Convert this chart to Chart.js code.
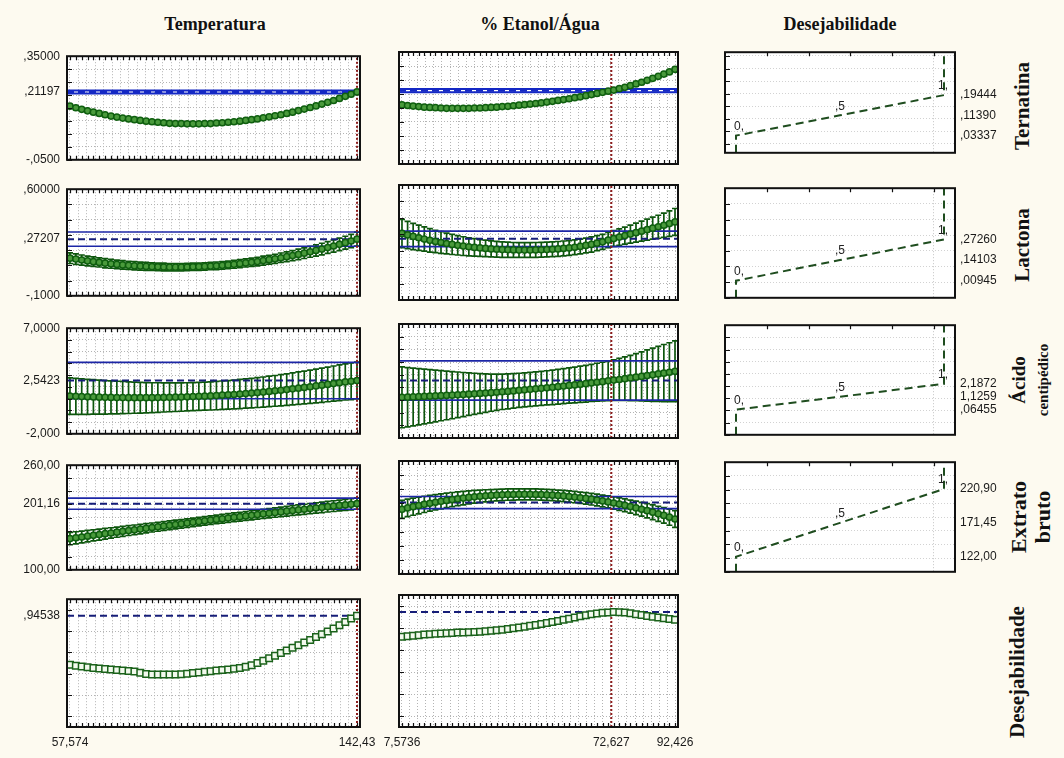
<!DOCTYPE html>
<html lang="pt">
<head>
<meta charset="utf-8">
<title>Perfis de desejabilidade</title>
<script src="https://cdn.jsdelivr.net/npm/chart.js@4.4.0/dist/chart.umd.min.js"></script>
<style>
  body { margin: 0; background: #fdfaf0; width: 1064px; height: 758px; position: relative; overflow: hidden;
         font-family: 'Liberation Serif', 'Times New Roman', serif; }
  canvas { position: absolute; }
  .titulo { position: absolute; top: 14px; width: 300px; text-align: center; font-weight: bold; font-size: 18px; color: #111; }
  .lado { position: absolute; transform: translate(-50%, -50%) rotate(-90deg); white-space: nowrap; font-weight: bold; color: #111; }
</style>
</head>
<body>
<div class="titulo" style="left:65px">Temperatura</div>
<div class="titulo" style="left:390px">% Etanol/Água</div>
<div class="titulo" style="left:690px">Desejabilidade</div>
<div class="lado" style="left:1022px;top:106px;font-size:21px">Ternatina</div>
<div class="lado" style="left:1022px;top:245px;font-size:21px">Lactona</div>
<div class="lado" style="left:1019px;top:380px;font-size:19px">Ácido</div>
<div class="lado" style="left:1043px;top:380px;font-size:15px">centipédico</div>
<div class="lado" style="left:1019px;top:517px;font-size:22px">Extrato</div>
<div class="lado" style="left:1043px;top:517px;font-size:22px">bruto</div>
<div class="lado" style="left:1017px;top:672px;font-size:21px">Desejabilidade</div>
<script>
// grade de pontos dos fatores
const tempX = [57.57, 59.31, 61.04, 62.77, 64.50, 66.23, 67.96, 69.70, 71.43, 73.16,
  74.89, 76.62, 78.36, 80.09, 81.82, 83.55, 85.28, 87.01, 88.75, 90.48,
  92.21, 93.94, 95.67, 97.41, 99.14, 100.87, 102.60, 104.33, 106.06, 107.80,
  109.53, 111.26, 112.99, 114.72, 116.45, 118.19, 119.92, 121.65, 123.38, 125.11,
  126.84, 128.58, 130.31, 132.04, 133.77, 135.50, 137.24, 138.97, 140.70, 142.43];
const etanolX = [7.57, 9.31, 11.04, 12.77, 14.50, 16.23, 17.96, 19.69, 21.43, 23.16,
  24.89, 26.62, 28.35, 30.09, 31.82, 33.55, 35.28, 37.01, 38.74, 40.48,
  42.21, 43.94, 45.67, 47.40, 49.13, 50.87, 52.60, 54.33, 56.06, 57.79,
  59.52, 61.26, 62.99, 64.72, 66.45, 68.18, 69.91, 71.65, 73.38, 75.11,
  76.84, 78.57, 80.30, 82.04, 83.77, 85.50, 87.23, 88.96, 90.69, 92.43];
const tempAtual = 142.43;
const etanolAtual = 72.627;
const tempXRotVals = [57.574, 142.43];
const tempXRotText = ['57,574', '142,43'];
const etanolXRotVals = [7.5736, 72.627, 92.426];
const etanolXRotText = ['7,5736', '72,627', '92,426'];

// respostas previstas ao longo de cada fator
const ternTemp = [0.157, 0.151, 0.145, 0.139, 0.134, 0.129, 0.124, 0.119, 0.115, 0.111,
  0.108, 0.105, 0.102, 0.099, 0.097, 0.095, 0.093, 0.091, 0.090, 0.090,
  0.089, 0.089, 0.089, 0.090, 0.090, 0.092, 0.093, 0.095, 0.097, 0.099,
  0.102, 0.105, 0.108, 0.112, 0.116, 0.120, 0.124, 0.129, 0.134, 0.140,
  0.146, 0.152, 0.158, 0.165, 0.172, 0.179, 0.187, 0.195, 0.203, 0.212];
const ternEtanol = [0.161, 0.159, 0.157, 0.155, 0.153, 0.152, 0.151, 0.150, 0.149, 0.149,
  0.149, 0.149, 0.149, 0.150, 0.150, 0.151, 0.152, 0.153, 0.155, 0.156,
  0.158, 0.160, 0.162, 0.164, 0.166, 0.168, 0.171, 0.174, 0.177, 0.180,
  0.183, 0.187, 0.190, 0.194, 0.198, 0.202, 0.206, 0.210, 0.214, 0.219,
  0.224, 0.230, 0.236, 0.242, 0.249, 0.256, 0.263, 0.271, 0.279, 0.288];
const lactTemp = [0.147, 0.141, 0.135, 0.129, 0.124, 0.119, 0.114, 0.110, 0.106, 0.103,
  0.100, 0.097, 0.095, 0.093, 0.091, 0.090, 0.089, 0.088, 0.088, 0.088,
  0.089, 0.090, 0.091, 0.093, 0.095, 0.097, 0.100, 0.103, 0.107, 0.111,
  0.116, 0.120, 0.125, 0.131, 0.137, 0.143, 0.150, 0.157, 0.164, 0.172,
  0.180, 0.189, 0.198, 0.207, 0.217, 0.227, 0.238, 0.249, 0.260, 0.272];
const lactTempErr = [0.035, 0.034, 0.033, 0.032, 0.031, 0.030, 0.030, 0.029, 0.028, 0.028,
  0.027, 0.027, 0.026, 0.026, 0.025, 0.025, 0.025, 0.024, 0.024, 0.024,
  0.024, 0.024, 0.024, 0.024, 0.024, 0.025, 0.025, 0.025, 0.026, 0.026,
  0.027, 0.027, 0.028, 0.029, 0.029, 0.030, 0.031, 0.032, 0.033, 0.034,
  0.035, 0.036, 0.037, 0.038, 0.039, 0.040, 0.041, 0.042, 0.044, 0.046];
const lactEtanol = [0.305, 0.296, 0.287, 0.279, 0.271, 0.263, 0.256, 0.250, 0.244, 0.238,
  0.233, 0.228, 0.224, 0.220, 0.217, 0.214, 0.211, 0.209, 0.207, 0.206,
  0.205, 0.204, 0.204, 0.204, 0.205, 0.206, 0.207, 0.209, 0.211, 0.214,
  0.217, 0.221, 0.226, 0.232, 0.238, 0.246, 0.254, 0.265, 0.274, 0.283,
  0.292, 0.301, 0.310, 0.319, 0.328, 0.337, 0.346, 0.355, 0.365, 0.375];
const lactEtanolErr = [0.086, 0.083, 0.080, 0.077, 0.074, 0.071, 0.068, 0.066, 0.063, 0.061,
  0.059, 0.057, 0.055, 0.053, 0.051, 0.050, 0.049, 0.048, 0.047, 0.046,
  0.045, 0.045, 0.045, 0.045, 0.045, 0.045, 0.045, 0.045, 0.045, 0.045,
  0.045, 0.045, 0.045, 0.045, 0.046, 0.046, 0.046, 0.047, 0.048, 0.050,
  0.052, 0.055, 0.058, 0.061, 0.064, 0.067, 0.070, 0.074, 0.078, 0.082];
const acidTemp = [1.21, 1.19, 1.17, 1.15, 1.14, 1.12, 1.11, 1.10, 1.09, 1.09,
  1.08, 1.08, 1.08, 1.08, 1.08, 1.09, 1.10, 1.11, 1.12, 1.13,
  1.15, 1.17, 1.19, 1.21, 1.23, 1.26, 1.29, 1.32, 1.35, 1.39,
  1.43, 1.47, 1.51, 1.56, 1.61, 1.66, 1.71, 1.77, 1.83, 1.89,
  1.95, 2.01, 2.08, 2.14, 2.21, 2.28, 2.35, 2.42, 2.48, 2.54];
const acidTempErr = [1.55, 1.53, 1.51, 1.49, 1.47, 1.45, 1.43, 1.41, 1.39, 1.37,
  1.35, 1.33, 1.31, 1.29, 1.27, 1.26, 1.24, 1.23, 1.22, 1.21,
  1.20, 1.20, 1.20, 1.20, 1.20, 1.21, 1.21, 1.22, 1.23, 1.24,
  1.25, 1.26, 1.27, 1.28, 1.30, 1.31, 1.33, 1.34, 1.36, 1.38,
  1.40, 1.42, 1.44, 1.46, 1.48, 1.50, 1.52, 1.54, 1.56, 1.57];
const acidEtanol = [1.21, 1.22, 1.24, 1.26, 1.28, 1.30, 1.32, 1.34, 1.36, 1.38,
  1.41, 1.43, 1.46, 1.49, 1.52, 1.55, 1.58, 1.61, 1.65, 1.68,
  1.72, 1.76, 1.80, 1.84, 1.88, 1.92, 1.96, 2.00, 2.05, 2.10,
  2.15, 2.19, 2.24, 2.29, 2.35, 2.40, 2.45, 2.51, 2.57, 2.62,
  2.68, 2.74, 2.80, 2.86, 2.93, 2.99, 3.06, 3.12, 3.19, 3.26];
const acidEtanolErr = [2.40, 2.34, 2.28, 2.22, 2.16, 2.10, 2.04, 1.98, 1.92, 1.86,
  1.80, 1.74, 1.68, 1.62, 1.57, 1.52, 1.47, 1.43, 1.40, 1.38,
  1.36, 1.35, 1.34, 1.34, 1.34, 1.34, 1.35, 1.36, 1.37, 1.38,
  1.39, 1.41, 1.43, 1.45, 1.47, 1.50, 1.53, 1.56, 1.60, 1.66,
  1.72, 1.79, 1.86, 1.94, 2.02, 2.10, 2.18, 2.26, 2.33, 2.40];
const extrTemp = [147.7, 149.0, 150.2, 151.4, 152.7, 153.9, 155.2, 156.3, 157.6, 158.8,
  160.0, 161.2, 162.3, 163.5, 164.7, 165.8, 167.0, 168.1, 169.3, 170.4,
  171.5, 172.6, 173.7, 174.9, 176.0, 177.0, 178.1, 179.2, 180.3, 181.3,
  182.4, 183.4, 184.5, 185.5, 186.5, 187.6, 188.6, 189.6, 190.6, 191.6,
  192.6, 193.6, 194.5, 195.5, 196.5, 197.4, 198.4, 199.3, 200.2, 201.2];
const extrTempErr = [9.4, 9.2, 9.0, 8.8, 8.6, 8.4, 8.2, 8.0, 7.8, 7.6,
  7.5, 7.3, 7.2, 7.0, 6.9, 6.8, 6.7, 6.6, 6.6, 6.5,
  6.5, 6.5, 6.5, 6.5, 6.5, 6.5, 6.6, 6.6, 6.7, 6.7,
  6.8, 6.9, 6.9, 7.0, 7.1, 7.2, 7.3, 7.4, 7.5, 7.6,
  7.7, 7.8, 7.9, 8.0, 8.1, 8.2, 8.3, 8.4, 8.5, 8.6];
const extrEtanol = [191.6, 193.5, 195.3, 197.0, 198.6, 200.1, 201.6, 202.9, 204.2, 205.4,
  206.5, 207.5, 208.4, 209.3, 210.0, 210.7, 211.2, 211.7, 212.1, 212.4,
  212.6, 212.8, 212.8, 212.8, 212.6, 212.4, 212.0, 211.6, 211.1, 210.5,
  209.7, 208.9, 208.0, 207.0, 205.9, 204.7, 203.4, 202.0, 200.5, 199.0,
  197.3, 195.5, 193.6, 191.7, 189.6, 187.5, 185.2, 182.9, 180.4, 177.9];
const extrEtanolErr = [12.7, 12.4, 12.1, 11.8, 11.5, 11.2, 10.9, 10.6, 10.3, 10.0,
  9.7, 9.5, 9.2, 9.0, 8.8, 8.6, 8.4, 8.2, 8.1, 8.0,
  7.9, 7.8, 7.8, 7.8, 7.8, 7.8, 7.8, 7.8, 7.8, 7.9,
  7.9, 8.0, 8.0, 8.1, 8.2, 8.3, 8.4, 8.5, 8.6, 8.8,
  9.0, 9.2, 9.5, 9.8, 10.1, 10.4, 10.7, 11.0, 11.4, 11.8];
const desTemp = [0.485, 0.475, 0.467, 0.460, 0.454, 0.449, 0.444, 0.440, 0.435, 0.430,
  0.426, 0.422, 0.410, 0.398, 0.394, 0.394, 0.394, 0.394, 0.394, 0.396,
  0.400, 0.406, 0.412, 0.418, 0.424, 0.430, 0.435, 0.440, 0.446, 0.455,
  0.466, 0.480, 0.500, 0.522, 0.546, 0.570, 0.594, 0.618, 0.643, 0.668,
  0.693, 0.718, 0.744, 0.770, 0.796, 0.826, 0.855, 0.885, 0.918, 0.945];
const desEtanol = [0.720, 0.725, 0.730, 0.735, 0.740, 0.744, 0.747, 0.750, 0.752, 0.755,
  0.758, 0.760, 0.762, 0.764, 0.767, 0.771, 0.775, 0.780, 0.785, 0.790,
  0.797, 0.804, 0.812, 0.820, 0.828, 0.836, 0.845, 0.854, 0.864, 0.874,
  0.884, 0.895, 0.906, 0.915, 0.924, 0.932, 0.938, 0.942, 0.945, 0.944,
  0.940, 0.934, 0.926, 0.918, 0.910, 0.902, 0.895, 0.888, 0.881, 0.875];

// valores no ponto atual
const previsto = [0.21197, 0.27207, 2.5423, 201.16, 0.94538];
const icInf = [0.2060, 0.225, 0.99, 192.6, null];
const icSup = [0.2180, 0.319, 4.09, 209.7, null];

// eixos verticais
const yMin = [-0.05, -0.1, -2, 100, -0.1];
const yMax = [0.35, 0.6, 7, 260, 1.1];
const yPasso = [0.05, 0.1, 1, 20, 0.2];
const yRotVals = [[0.35, 0.21197, -0.05], [0.6, 0.27207, -0.1], [7, 2.5423, -2], [260, 201.16, 100], [0.94538]];
const yRotText = [[',35000', ',21197', '-,0500'], [',60000', ',27207', '-,1000'], ['7,0000', '2,5423', '-2,000'], ['260,00', '201,16', '100,00'], [',94538']];

// funções de desejabilidade
const desejX = [0, 0.5, 1];
const desejXText = ['0,', ',5', '1,'];
const desejY = [[0.03337, 0.11390, 0.19444], [0.00945, 0.14103, 0.27260], [0.06455, 1.1259, 2.1872], [122.00, 171.45, 220.90]];
const desejYText = [[',03337', ',11390', ',19444'], [',00945', ',14103', ',27260'], [',06455', '1,1259', '2,1872'], ['122,00', '171,45', '220,90']];
const desejYMin = [-0.035, -0.1, -2, 100];
const desejYMax = [0.365, 0.6, 7, 260];
const desejMarcas = [0.15, 0.35, 0.55, 0.75, 0.95];

const seriesTemp = [ternTemp, lactTemp, acidTemp, extrTemp, desTemp];
const seriesEtanol = [ternEtanol, lactEtanol, acidEtanol, extrEtanol, desEtanol];
const errosTemp = [null, lactTempErr, acidTempErr, extrTempErr, null];
const errosEtanol = [null, lactEtanolErr, acidEtanolErr, extrEtanolErr, null];

// layout
const topoLinha = [52, 185, 324, 461, 595];
const baseLinha = [164, 300, 438, 574, 727];
const topoDes = [50, 186, 323, 460];
const baseDes = [155, 300, 437, 574];

Chart.defaults.font.family = "'Liberation Sans', Arial, sans-serif";
Chart.defaults.font.size = 12;
Chart.defaults.color = '#1a1a1a';
Chart.defaults.animation = false;

const semCor = 'rgba(0,0,0,0)';
const corGrade = '#b4b4b4';

function passos(min, max, p) {
  const out = [];
  for (let k = Math.ceil(min / p - 1e-9); k <= Math.floor(max / p + 1e-9); k++) out.push(+(k * p).toFixed(6));
  return out;
}
function igual(a, b) { return Math.abs(a - b) < 1e-6 * (Math.abs(a) + 1); }

function fazCanvas(left, top, w, h) {
  const c = document.createElement('canvas');
  c.width = w; c.height = h;
  c.style.left = left + 'px'; c.style.top = top + 'px';
  c.style.width = w + 'px'; c.style.height = h + 'px';
  document.body.appendChild(c);
  return c;
}

// fundo branco, moldura e marcas internas
const moldura = {
  id: 'moldura',
  beforeDraw(chart) {
    const a = chart.chartArea, ctx = chart.ctx;
    ctx.save(); ctx.fillStyle = '#ffffff';
    ctx.fillRect(a.left, a.top, a.right - a.left, a.bottom - a.top);
    ctx.restore();
  },
  afterDraw(chart, args, o) {
    const a = chart.chartArea, ctx = chart.ctx;
    const xs = chart.scales.x, ys = chart.scales.y;
    ctx.save();
    ctx.strokeStyle = '#111'; ctx.lineWidth = 1.2;
    ctx.beginPath();
    (o.hatch || []).forEach(v => {
      const px = Math.round(xs.getPixelForValue(v)) + 0.5;
      ctx.moveTo(px, a.top); ctx.lineTo(px, a.top + 4);
      if (!o.soTopo) { ctx.moveTo(px, a.bottom); ctx.lineTo(px, a.bottom - 4); }
    });
    (o.yMarcas || []).forEach(v => {
      const py = Math.round(ys.getPixelForValue(v)) + 0.5;
      ctx.moveTo(a.left, py); ctx.lineTo(a.left + 5, py);
    });
    ctx.stroke();
    ctx.lineWidth = 2;
    ctx.strokeRect(a.left, a.top, a.right - a.left, a.bottom - a.top);
    ctx.restore();
  }
};

// barras de erro verticais
const barrasErro = {
  id: 'barrasErro',
  beforeDatasetsDraw(chart) {
    const ctx = chart.ctx, a = chart.chartArea, ys = chart.scales.y;
    chart.data.datasets.forEach((ds, i) => {
      if (!ds.erros) return;
      const meta = chart.getDatasetMeta(i);
      ctx.save();
      ctx.beginPath(); ctx.rect(a.left, a.top, a.right - a.left, a.bottom - a.top); ctx.clip();
      ctx.strokeStyle = '#0d560d'; ctx.lineWidth = 1.7;
      ctx.beginPath();
      meta.data.forEach((pt, j) => {
        const v = ds.data[j].y, e = ds.erros[j];
        const y1 = ys.getPixelForValue(v + e), y2 = ys.getPixelForValue(v - e);
        ctx.moveTo(pt.x, y1); ctx.lineTo(pt.x, y2);
        ctx.moveTo(pt.x - 3, y1); ctx.lineTo(pt.x + 3, y1);
        ctx.moveTo(pt.x - 3, y2); ctx.lineTo(pt.x + 3, y2);
      });
      ctx.stroke();
      ctx.restore();
    });
  }
};

// rótulos 0, ,5 1, na função de desejabilidade
const rotulos = {
  id: 'rotulos',
  afterDatasetsDraw(chart) {
    const ctx = chart.ctx;
    chart.data.datasets.forEach((ds, i) => {
      if (!ds.rotulos) return;
      const meta = chart.getDatasetMeta(i);
      ctx.save();
      ctx.font = "12px 'Liberation Sans', Arial, sans-serif";
      ctx.fillStyle = '#222'; ctx.textAlign = 'center'; ctx.textBaseline = 'bottom';
      ds.rotulos.forEach((t, k) => {
        const pt = meta.data[k + 1];
        const dx = k === 0 ? 3 : (k === 2 ? -1 : 0);
        ctx.fillText(t, pt.x + dx, pt.y - 3);
      });
      ctx.restore();
    });
  }
};

function eixoY(min, max, passo, rotVals, rotTxt, pos, largura, pad, corLinha) {
  const steps = passos(min, max, passo);
  return {
    type: 'linear', position: pos, min: min, max: max,
    afterBuildTicks: s => {
      const v = steps.slice();
      rotVals.forEach(x => { if (!v.some(t => igual(t, x))) v.push(x); });
      v.sort((p, q) => p - q);
      s.ticks = v.map(value => ({ value }));
    },
    afterFit: s => { s.width = largura; },
    grid: { drawTicks: false, lineWidth: 1, color: c => (c.tick && steps.some(t => igual(t, c.tick.value))) ? corLinha : semCor },
    border: { display: false, dash: [1, 2] },
    ticks: {
      display: rotVals.length > 0, autoSkip: false, padding: pad, maxRotation: 0,
      callback: v => { const k = rotVals.findIndex(x => igual(x, v)); return k >= 0 ? rotTxt[k] : ''; }
    }
  };
}

function perfil(col, r) {
  const ehTemp = col === 0;
  const xs = ehTemp ? tempX : etanolX;
  const serie = (ehTemp ? seriesTemp : seriesEtanol)[r];
  const erros = (ehTemp ? errosTemp : errosEtanol)[r];
  const atual = ehTemp ? tempAtual : etanolAtual;
  const xMin = ehTemp ? 56.69 : 6.64;
  const xMax = ehTemp ? 143.32 : 93.36;
  const ultima = r === 4;
  const left = ehTemp ? 0 : 380, w = ehTemp ? 385 : 320;
  const eixoW = ehTemp ? 67 : 19, padR = ehTemp ? 25 : 22;
  const hArea = baseLinha[r] - topoLinha[r];
  const h = hArea + 10 + (ultima ? 24 : 10);
  const cv = fazCanvas(left, topoLinha[r] - 10, w, h);

  const xSteps = passos(xMin, xMax, 2.5);
  const xRot = ultima ? (ehTemp ? tempXRotVals : etanolXRotVals) : [];
  const xTxt = ehTemp ? tempXRotText : etanolXRotText;
  const corIC = r === 0 ? '#1428c4' : '#1c26a6';

  const datasets = [{
    data: xs.map((x, i) => ({ x, y: serie[i] })),
    erros: erros,
    showLine: false,
    pointStyle: ultima ? 'rect' : 'circle',
    pointRadius: ultima ? 4.6 : 3.1,
    pointBorderWidth: 1.5,
    pointBorderColor: ultima ? '#1a621a' : '#0f5f0f',
    pointBackgroundColor: ultima ? '#f3faee' : '#4a9a3c'
  }, {
    data: [{ x: atual, y: yMin[r] }, { x: atual, y: yMax[r] }],
    showLine: true, pointRadius: 0, borderColor: '#8c1c1c', borderWidth: 2, borderDash: [2, 2]
  }, {
    data: [{ x: xMin, y: previsto[r] }, { x: xMax, y: previsto[r] }],
    showLine: true, pointRadius: 0, borderColor: r === 0 ? corIC : '#161d78', borderWidth: 2, borderDash: [7, 4]
  }];
  if (icInf[r] !== null) {
    [icInf[r], icSup[r]].forEach(v => datasets.push({
      data: [{ x: xMin, y: v }, { x: xMax, y: v }],
      showLine: true, pointRadius: 0, borderColor: corIC, borderWidth: r === 0 ? 2 : 1.6
    }));
  }

  new Chart(cv, {
    type: 'scatter',
    data: { datasets },
    options: {
      responsive: false, animation: false,
      layout: { padding: { left: 0, right: padR, top: 10, bottom: ultima ? 0 : 10 } },
      plugins: {
        legend: { display: false }, tooltip: { enabled: false },
        moldura: { hatch: xs, yMarcas: passos(yMin[r], yMax[r], yPasso[r]) }
      },
      scales: {
        x: {
          type: 'linear', min: xMin, max: xMax,
          afterBuildTicks: s => {
            const v = xSteps.slice();
            xRot.forEach(x => v.push(x));
            v.sort((p, q) => p - q);
            s.ticks = v.map(value => ({ value }));
          },
          afterFit: s => { s.height = ultima ? 24 : 0; },
          grid: { drawTicks: false, lineWidth: 1, color: c => (c.tick && xSteps.some(t => igual(t, c.tick.value))) ? corGrade : semCor },
          border: { display: false, dash: [1, 2] },
          ticks: {
            display: ultima, autoSkip: false, maxRotation: 0, padding: 8,
            callback: v => { const k = xRot.findIndex(x => igual(x, v)); return k >= 0 ? xTxt[k] : ''; }
          }
        },
        y: eixoY(yMin[r], yMax[r], yPasso[r], ehTemp ? yRotVals[r] : [], ehTemp ? yRotText[r] : [], 'left', eixoW, 7, corGrade)
      }
    },
    plugins: [moldura, barrasErro]
  });
}

function desejPainel(r) {
  const hArea = baseDes[r] - topoDes[r];
  const cv = fazCanvas(720, topoDes[r] - 10, 300, hArea + 20);
  const pts = [{ x: desejX[0], y: desejYMin[r] }];
  desejX.forEach((x, k) => pts.push({ x, y: desejY[r][k] }));
  pts.push({ x: desejX[2], y: desejYMax[r] });

  new Chart(cv, {
    type: 'scatter',
    data: {
      datasets: [{
        data: pts, rotulos: desejXText,
        showLine: true, pointRadius: 0, borderColor: '#1f4d1f', borderWidth: 2, borderDash: [8, 5]
      }]
    },
    options: {
      responsive: false, animation: false,
      layout: { padding: { left: 5, right: 20, top: 10, bottom: 10 } },
      plugins: {
        legend: { display: false }, tooltip: { enabled: false },
        moldura: { hatch: desejMarcas, soTopo: true, yMarcas: passos(desejYMin[r], desejYMax[r], yPasso[r]) }
      },
      scales: {
        x: {
          type: 'linear', min: -0.053, max: 1.053,
          afterBuildTicks: s => { s.ticks = desejMarcas.map(value => ({ value })); },
          afterFit: s => { s.height = 0; },
          grid: { drawTicks: false, color: c => (c.tick && igual(c.tick.value, 0.95)) ? '#c4c4c4' : semCor },
          border: { display: false, dash: [1, 2] },
          ticks: { display: false }
        },
        y: eixoY(desejYMin[r], desejYMax[r], yPasso[r], desejY[r], desejYText[r], 'right', 45, 5, '#d2d2d2')
      }
    },
    plugins: [moldura, rotulos]
  });
}

for (let r = 0; r < 5; r++) { perfil(0, r); perfil(1, r); }
for (let r = 0; r < 4; r++) desejPainel(r);
</script>
</body>
</html>
